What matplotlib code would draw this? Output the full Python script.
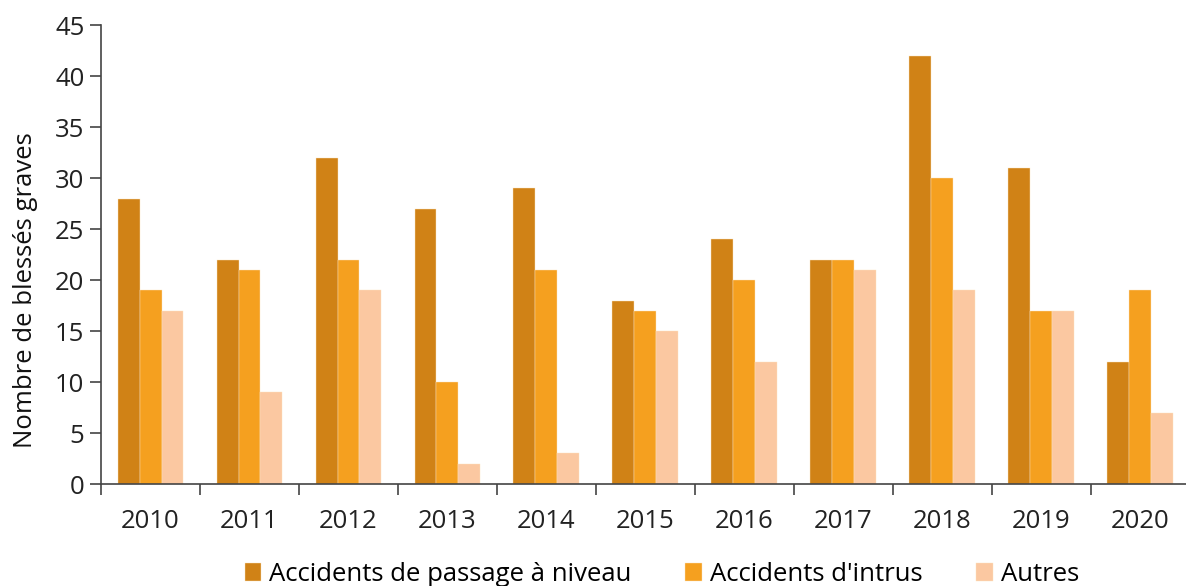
import numpy as np
import matplotlib.pyplot as plt

plt.rcParams['font.family'] = ['Open Sans', 'DejaVu Sans']

# Data
years = ['2010', '2011', '2012', '2013', '2014', '2015', '2016', '2017', '2018', '2019', '2020']
passage_niveau = [28, 22, 32, 27, 29, 18, 24, 22, 42, 31, 12]
intrus = [19, 21, 22, 10, 21, 17, 20, 22, 30, 17, 19]
autres = [17, 9, 19, 2, 3, 15, 12, 21, 19, 17, 7]

series = [
    ("Accidents de passage à niveau", passage_niveau, '#D08216'),
    ("Accidents d'intrus", intrus, '#F5A01F'),
    ("Autres", autres, '#FBC8A1'),
]

fs = 18.5

fig = plt.figure(figsize=(11.86, 5.86), dpi=100)
ax = fig.add_axes([0.0852, 0.174, 0.918, 0.783])

x = np.arange(len(years))
w = 0.222
for i, (name, vals, col) in enumerate(series):
    ax.bar(x + (i - 1) * w, vals, width=w, color=col, label=name,
           edgecolor='#FBE3C0', linewidth=0.3)

ax.set_xlim(-0.5, len(years) - 0.5)
ax.set_ylim(0, 45)
ax.set_yticks(np.arange(0, 46, 5))
ax.set_xticks(x)
ax.set_xticklabels(years)
ax.set_xticks(np.arange(-0.5, len(years), 1), minor=True)
ax.tick_params(axis='x', which='major', length=0, pad=18, labelsize=fs, colors='#222222')
ax.tick_params(axis='x', which='minor', length=8, width=1.2, color='#444444')
ax.tick_params(axis='y', length=8, width=1.2, color='#444444', labelsize=fs, labelcolor='#222222', pad=4)

for s in ['top', 'right']:
    ax.spines[s].set_visible(False)
for s in ['left', 'bottom']:
    ax.spines[s].set_color('#444444')
    ax.spines[s].set_linewidth(1.2)

ax.set_ylabel('Nombre de blessés graves', fontsize=18.5, color='#111111')
ax.yaxis.set_label_coords(-0.058, 0.423)

ax.legend(loc='upper center', bbox_to_anchor=(0.515, -0.142), ncol=3, frameon=False,
          fontsize=fs, handlelength=0.65, handleheight=0.65, handletextpad=0.3,
          columnspacing=2.1, borderpad=0)

plt.savefig('out.png', dpi=100)
plt.close()
